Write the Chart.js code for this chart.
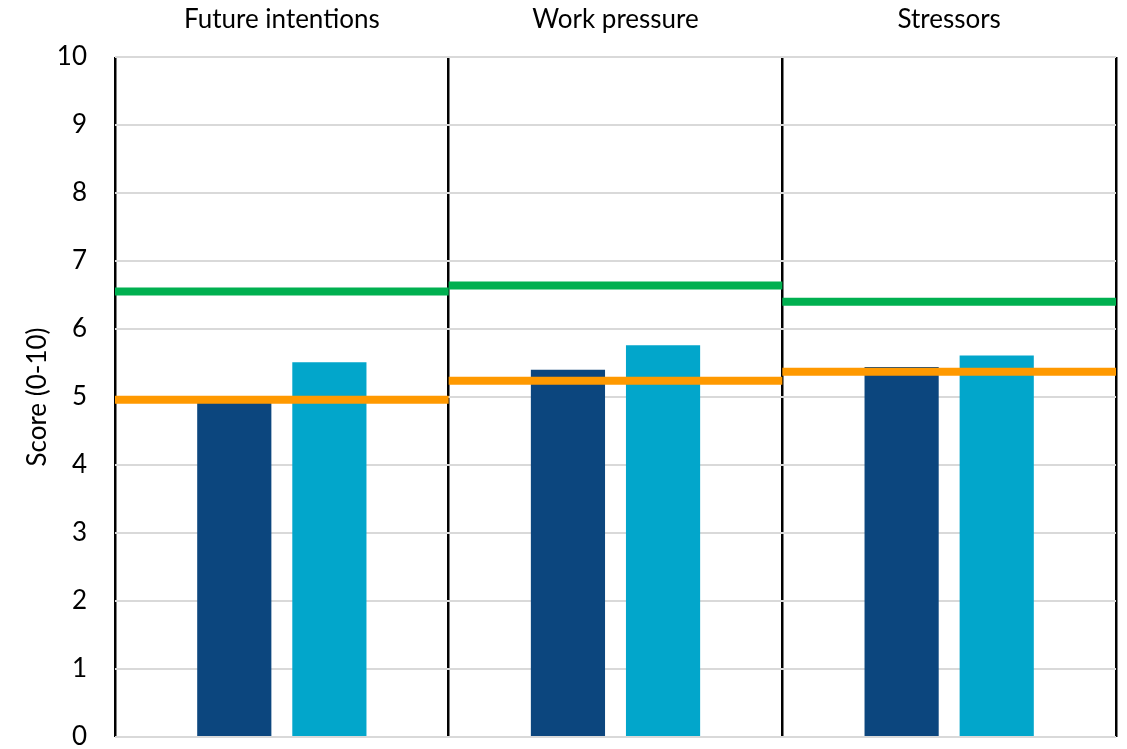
<!DOCTYPE html>
<html>
<head>
<meta charset="utf-8">
<script src="https://cdn.jsdelivr.net/npm/chart.js@4.4.0/dist/chart.umd.min.js"></script>
<style>
  html, body { margin: 0; padding: 0; background: #fff; }
  #wrap { position: relative; width: 1127px; height: 749px; }
</style>
</head>
<body>
<div id="wrap"><canvas id="chart"></canvas></div>
<script>
// values
const panels = ['Future intentions', 'Work pressure', 'Stressors'];
const darkValues = [4.94, 5.40, 5.44];
const lightValues = [5.51, 5.76, 5.61];
const greenValues = [6.55, 6.64, 6.40];
const orangeValues = [4.96, 5.24, 5.37];
const yMin = 0, yMax = 10, yStep = 1;

const font = 'Lato, "Open Sans", sans-serif';

// flat benchmark lines across each panel, placed with the chart's scales
const panelLines = {
  id: 'panelLines',
  afterDatasetsDraw(chart) {
    const { ctx, scales: { x, y } } = chart;
    const half = (x.getPixelForValue(1) - x.getPixelForValue(0)) / 2;
    const draw = (vals) => {
      vals.forEach((v, i) => {
        const cx = x.getPixelForValue(i);
        const py = y.getPixelForValue(v);
        ctx.beginPath();
        ctx.moveTo(cx - half, py);
        ctx.lineTo(cx + half, py);
        ctx.stroke();
      });
    };
    ctx.save();
    ctx.lineWidth = 8;
    ctx.lineCap = 'butt';
    ctx.strokeStyle = '#00b050';
    draw(greenValues);
    ctx.strokeStyle = '#ff9900';
    draw(orangeValues);
    ctx.restore();
  }
};

new Chart(document.getElementById('chart'), {
  type: 'bar',
  data: {
    labels: panels,
    datasets: [
      { label: 'Group A', data: darkValues, backgroundColor: '#0c467e' },
      { label: 'Group B', data: lightValues, backgroundColor: '#02a6cb' }
    ]
  },
  options: {
    responsive: true,
    maintainAspectRatio: false,
    animation: false,
    categoryPercentage: 0.57,
    barPercentage: 0.78,
    layout: { padding: { left: 0, right: 11, top: 0, bottom: 12 } },
    plugins: { legend: { display: false }, tooltip: { enabled: false } },
    scales: {
      x: {
        position: 'top',
        offset: true,
        grid: { offset: true, color: '#000', lineWidth: 2.5, drawTicks: false },
        border: { display: false },
        ticks: { color: '#000', font: { family: font, size: 26 }, padding: 22, maxRotation: 0 },
        afterFit: s => { s.height = 57; }
      },
      y: {
        min: yMin,
        max: yMax,
        grid: { color: '#d9d9d9', lineWidth: 2, drawTicks: false },
        border: { display: false },
        ticks: { stepSize: yStep, color: '#000', font: { family: font, size: 26 }, padding: 28 },
        title: { display: true, text: 'Score (0-10)', color: '#000', font: { family: font, size: 26 }, padding: { top: 22, bottom: 0 } },
        afterFit: s => { s.width = 115; s.paddingTop = 0; s.paddingBottom = 0; }
      }
    }
  },
  plugins: [panelLines]
});
</script>
</body>
</html>
